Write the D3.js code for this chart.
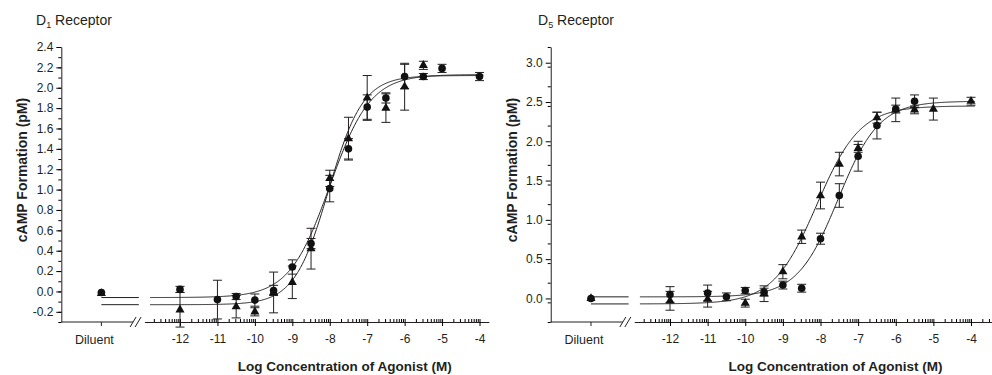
<!DOCTYPE html>
<html>
<head>
<meta charset="utf-8">
<script src="https://cdn.jsdelivr.net/npm/d3@7"></script>
<style>
  body { margin: 0; background: #fff; }
  svg { display: block; font-family: "Liberation Sans", Arial, sans-serif; }
  text { fill: #231f20; }
</style>
</head>
<body>
<svg id="chart" width="992" height="375"></svg>
<script>
// position used for the "Diluent" column (in log-concentration units)
var DILUENT = -14.1;

// [log conc (M), mean cAMP (pM), error]
var d1Circles = [
    [DILUENT, -0.01, 0],
    [-12, 0.02, 0.03],
    [-11, -0.08, 0.19],
    [-10.5, -0.05, 0.03],
    [-10, -0.085, 0.06],
    [-9.5, 0.01, 0.05],
    [-9, 0.24, 0.07],
    [-8.5, 0.47, 0.05],
    [-8, 1.01, 0.13],
    [-7.5, 1.40, 0.10],
    [-7, 1.81, 0.12],
    [-6.5, 1.90, 0.05],
    [-6, 2.11, 0.12],
    [-5.5, 2.11, 0.03],
    [-5, 2.19, 0.04],
    [-4, 2.11, 0.04]
];
var d1Triangles = [
    [DILUENT, -0.02, 0],
    [-12, -0.18, 0.17],
    [-10.5, -0.15, 0.11],
    [-10, -0.20, 0.04],
    [-9.5, -0.01, 0.20],
    [-9, 0.09, 0.16],
    [-8.5, 0.42, 0.20],
    [-8, 1.11, 0.08],
    [-7.5, 1.50, 0.21],
    [-7, 1.90, 0.22],
    [-6.5, 1.80, 0.14],
    [-6, 2.01, 0.23],
    [-5.5, 2.22, 0.04]
];
var d5Circles = [
    [DILUENT, 0.0, 0],
    [-12, 0.05, 0.10],
    [-11, 0.07, 0.10],
    [-10.5, 0.02, 0.05],
    [-10, 0.10, 0.04],
    [-9.5, 0.08, 0.05],
    [-9, 0.17, 0.05],
    [-8.5, 0.13, 0.05],
    [-8, 0.76, 0.07],
    [-7.5, 1.31, 0.15],
    [-7, 1.81, 0.19],
    [-6.5, 2.20, 0.17],
    [-6, 2.41, 0.05],
    [-5.5, 2.51, 0.08]
];
var d5Triangles = [
    [DILUENT, 0.0, 0],
    [-12, -0.03, 0.12],
    [-11, -0.01, 0.10],
    [-10, -0.06, 0.05],
    [-9.5, 0.06, 0.10],
    [-9, 0.34, 0.09],
    [-8.5, 0.785, 0.085],
    [-8, 1.31, 0.17],
    [-7.5, 1.71, 0.15],
    [-7, 1.91, 0.05],
    [-6.5, 2.30, 0.07],
    [-6, 2.40, 0.15],
    [-5.5, 2.40, 0.05],
    [-5, 2.41, 0.14],
    [-4, 2.51, 0.05]
];

// fitted sigmoid parameters: [bottom, top, logEC50, hill]
var d1CircleFit = [-0.06, 2.13, -8.0, 0.8];
var d1TriangleFit = [-0.13, 2.12, -8.03, 0.95];
var d5CircleFit = [0.02, 2.51, -7.53, 0.8];
var d5TriangleFit = [-0.07, 2.45, -8.1, 0.75];

var xTicks = [-12, -11, -10, -9, -8, -7, -6, -5, -4];
var d1YTicks = [-0.2, 0, 0.2, 0.4, 0.6, 0.8, 1.0, 1.2, 1.4, 1.6, 1.8, 2.0, 2.2, 2.4];
var d5YTicks = [0, 0.5, 1.0, 1.5, 2.0, 2.5, 3.0];

var svg = d3.select("#chart");

function sigmoid(p, x) {
    return p[0] + (p[1] - p[0]) / (1 + Math.pow(10, p[3] * (p[2] - x)));
}

function drawPanel(opt) {
    var g = svg.append("g");

    var x = d3.scaleLinear().domain([-12, -4]).range(opt.xRange);
    var y = d3.scaleLinear().domain(opt.yDomain).range([322, 47]);
    var yAxisX = x(-15.17);
    var x0 = y.range()[0];

    // y axis
    var minorY = d3.range(opt.yDomain[0], opt.yDomain[1] + 1e-9, opt.yMinor)
        .map(function (d) { return Math.round(d * 100) / 100; });
    g.append("g")
        .attr("transform", "translate(" + yAxisX + ",0)")
        .call(d3.axisLeft(y).tickValues(minorY).tickSize(3).tickSizeOuter(0).tickFormat(""))
        .call(function (s) { s.select(".domain").attr("stroke", "#231f20"); });
    g.append("g")
        .attr("transform", "translate(" + yAxisX + ",0)")
        .call(d3.axisLeft(y).tickValues(opt.yTicks).tickSize(5).tickSizeOuter(0)
            .tickFormat(function (d) { return d.toFixed(1); }))
        .call(function (s) {
            s.select(".domain").remove();
            s.selectAll("text").attr("font-size", 12).attr("x", -8)
                .attr("font-family", "Liberation Sans, Arial, sans-serif").style("fill", "#231f20");
        });

    // x axis: diluent segment, break, log segment
    var breakA = x(-13.28), breakB = x(-12.95);
    g.append("line").attr("x1", yAxisX).attr("x2", breakA + 1).attr("y1", x0).attr("y2", x0)
        .attr("stroke", "#231f20");
    [breakA, breakA + 5].forEach(function (bx) {
        g.append("line").attr("x1", bx - 2).attr("y1", x0 + 5).attr("x2", bx + 4).attr("y2", x0 - 5)
            .attr("stroke", "#231f20");
    });
    g.append("line").attr("x1", x(DILUENT)).attr("x2", x(DILUENT)).attr("y1", x0).attr("y2", x0 + 4)
        .attr("stroke", "#231f20");
    g.append("text").attr("x", x(DILUENT) - 7).attr("y", x0 + 22).attr("text-anchor", "middle")
        .attr("font-size", 12.5).text("Diluent");

    var xa = x.copy().domain([-12.95, opt.xEnd]).range([breakB, x(opt.xEnd)]);
    var minorX = [];
    d3.range(-13, -3).forEach(function (n) {
        d3.range(1, 10).forEach(function (k) {
            var v = n + Math.log10(k);
            if (k > 1 && v > -12.95 && v < opt.xEnd) minorX.push(v);
        });
    });
    g.append("g")
        .attr("transform", "translate(0," + x0 + ")")
        .call(d3.axisBottom(xa).tickValues(minorX).tickSize(-3).tickSizeOuter(0).tickFormat(""))
        .call(function (s) { s.select(".domain").attr("stroke", "#231f20"); });
    g.append("g")
        .attr("transform", "translate(0," + x0 + ")")
        .call(d3.axisBottom(xa).tickValues(xTicks).tickSize(4).tickSizeOuter(0)
            .tickFormat(function (d) { return String(d); }))
        .call(function (s) {
            s.select(".domain").remove();
            s.selectAll("line").attr("y1", -3);
            s.selectAll("text").attr("font-size", 12).attr("y", 12)
                .attr("font-family", "Liberation Sans, Arial, sans-serif").style("fill", "#231f20");
        });

    // axis titles
    g.append("text")
        .attr("transform", "translate(" + (yAxisX - 34) + ",170) rotate(-90)")
        .attr("text-anchor", "middle").attr("font-weight", "bold").attr("font-size", 14)
        .text("cAMP Formation (pM)");
    g.append("text")
        .attr("x", x(-7.6)).attr("y", 371).attr("text-anchor", "middle")
        .attr("font-weight", "bold").attr("font-size", 13.5)
        .text("Log Concentration of Agonist (M)");

    // panel title
    var t = g.append("text").attr("x", opt.titleX).attr("y", 25).attr("font-size", 14);
    t.append("tspan").text("D");
    t.append("tspan").attr("font-size", 9).attr("dy", 3).text(opt.sub);
    t.append("tspan").attr("dy", -3).text(" Receptor");

    // fitted curves
    var line = d3.line().x(function (d) { return x(d[0]); }).y(function (d) { return y(d[1]); });
    opt.fits.forEach(function (p) {
        g.append("path")
            .attr("d", line([[DILUENT, p[0]], [-13.1, p[0]]]))
            .attr("fill", "none").attr("stroke", "#231f20").attr("stroke-width", 1);
        var pts = d3.range(-12.8, opt.curveEnd + 0.001, 0.02).map(function (v) {
            return [v, sigmoid(p, v)];
        });
        g.append("path").attr("d", line(pts))
            .attr("fill", "none").attr("stroke", "#231f20").attr("stroke-width", 1);
    });

    // error bars
    function errorBars(data) {
        data.filter(function (d) { return d[2] > 0; }).forEach(function (d) {
            var cx = x(d[0]), lo = y(d[1] - d[2]), hi = y(d[1] + d[2]);
            g.append("line").attr("x1", cx).attr("x2", cx).attr("y1", lo).attr("y2", hi)
                .attr("stroke", "#231f20");
            [lo, hi].forEach(function (yy) {
                g.append("line").attr("x1", cx - 4.5).attr("x2", cx + 4.5).attr("y1", yy).attr("y2", yy)
                    .attr("stroke", "#231f20");
            });
        });
    }
    errorBars(opt.triangles);
    errorBars(opt.circles);

    var tri = d3.symbol().type(d3.symbolTriangle).size(36);
    g.selectAll(".tri").data(opt.triangles).enter().append("path")
        .attr("transform", function (d) { return "translate(" + x(d[0]) + "," + y(d[1]) + ")"; })
        .attr("d", tri).attr("fill", "#111");
    g.selectAll(".dot").data(opt.circles).enter().append("circle")
        .attr("cx", function (d) { return x(d[0]); })
        .attr("cy", function (d) { return y(d[1]); })
        .attr("r", 3.8).attr("fill", "#111");
}

drawPanel({
    xRange: [180, 479.5], xEnd: -3.75, curveEnd: -3.9,
    yDomain: [-0.3, 2.4], yTicks: d1YTicks, yMinor: 0.1,
    titleX: 36, sub: "1",
    circles: d1Circles, triangles: d1Triangles,
    fits: [d1CircleFit, d1TriangleFit]
});
drawPanel({
    xRange: [670, 971], xEnd: -3.45, curveEnd: -3.9,
    yDomain: [-0.3, 3.2], yTicks: d5YTicks, yMinor: 0.25,
    titleX: 538, sub: "5",
    circles: d5Circles, triangles: d5Triangles,
    fits: [d5CircleFit, d5TriangleFit]
});
</script>
</body>
</html>
